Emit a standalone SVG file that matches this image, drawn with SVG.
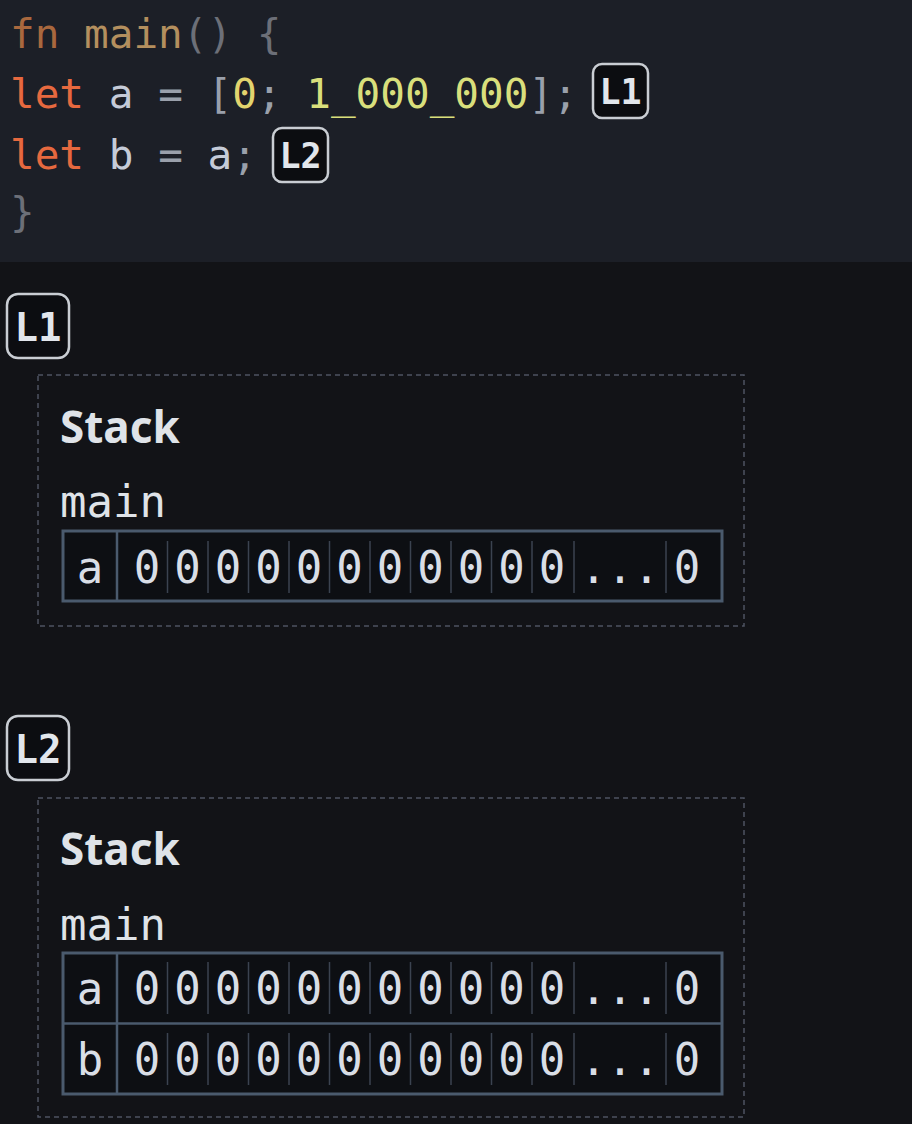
<svg xmlns="http://www.w3.org/2000/svg" width="912" height="1124" viewBox="0 0 912 1124">
<style>
.code{font-family:"DejaVu Sans Mono","Liberation Mono",monospace;font-size:41px}
.badge rect{fill:#0c0d11;stroke:#c9cdd3;stroke-width:2.5}
.badge text{font-family:"DejaVu Sans Mono","Liberation Mono",monospace;font-weight:bold;fill:#e2e6ec;text-anchor:middle}
.frame{fill:none;stroke:#4d5362;stroke-width:1.5;stroke-dasharray:5 4}
.title{font-family:"Noto Sans","Liberation Sans",sans-serif;font-weight:bold;font-size:44px;fill:#dfe3e8}
.fn{font-family:"DejaVu Sans Mono","Liberation Mono",monospace;font-size:44px;fill:#dfe3e8}
.cell{font-family:"DejaVu Sans Mono","Liberation Mono",monospace;font-size:44px;fill:#d9dee6;text-anchor:middle}
.tbl{fill:#0d0f13;stroke:#4a5a6d;stroke-width:3}
.sep{stroke:#4a5a6d;stroke-width:2.5}
.div{stroke:#3b4350;stroke-width:1.5}
</style>
<defs>
<g id="row">
<line class="div" x1="167.5" y1="10" x2="167.5" y2="62"/>
<line class="div" x1="208" y1="10" x2="208" y2="62"/>
<line class="div" x1="248.5" y1="10" x2="248.5" y2="62"/>
<line class="div" x1="289" y1="10" x2="289" y2="62"/>
<line class="div" x1="329.5" y1="10" x2="329.5" y2="62"/>
<line class="div" x1="370" y1="10" x2="370" y2="62"/>
<line class="div" x1="410.5" y1="10" x2="410.5" y2="62"/>
<line class="div" x1="451" y1="10" x2="451" y2="62"/>
<line class="div" x1="491.5" y1="10" x2="491.5" y2="62"/>
<line class="div" x1="532" y1="10" x2="532" y2="62"/>
<line class="div" x1="574" y1="10" x2="574" y2="62"/>
<line class="div" x1="666" y1="10" x2="666" y2="62"/>
<text class="cell" x="147" y="52">0</text>
<text class="cell" x="187.5" y="52">0</text>
<text class="cell" x="228" y="52">0</text>
<text class="cell" x="268.5" y="52">0</text>
<text class="cell" x="309" y="52">0</text>
<text class="cell" x="349.5" y="52">0</text>
<text class="cell" x="390" y="52">0</text>
<text class="cell" x="430.5" y="52">0</text>
<text class="cell" x="471" y="52">0</text>
<text class="cell" x="511.5" y="52">0</text>
<text class="cell" x="552" y="52">0</text>
<text class="cell" x="620" y="52">...</text>
<text class="cell" x="687" y="52">0</text>
</g>
</defs>
<rect x="0" y="0" width="912" height="1124" fill="#121317"/>
<g id="code">
<rect x="0" y="0" width="912" height="262" fill="#1c1f27"/>
<text class="code" x="10" y="48" xml:space="preserve"><tspan fill="#a9683e">fn</tspan><tspan fill="#b48f5e"> main</tspan><tspan fill="#6c6f78">() {</tspan></text>
<text class="code" x="10" y="108" xml:space="preserve"><tspan fill="#e6693f">let</tspan><tspan fill="#c5cbd8"> a </tspan><tspan fill="#9aa0ab">= [</tspan><tspan fill="#e2d46e">0</tspan><tspan fill="#9aa0ab">; </tspan><tspan fill="#d9df7c">1_000_000</tspan><tspan fill="#9aa0ab">];</tspan></text>
<text class="code" x="10" y="169" xml:space="preserve"><tspan fill="#e6693f">let</tspan><tspan fill="#c5cbd8"> b </tspan><tspan fill="#9aa0ab">= </tspan><tspan fill="#c5cbd8">a</tspan><tspan fill="#9aa0ab">;</tspan></text>
<text class="code" x="10" y="226" fill="#6c6f78">}</text>
</g>
<g id="badge-code-L1" class="badge"><rect x="593" y="64" width="55" height="54" rx="9"/><text x="620.5" y="104" font-size="35">L1</text></g>
<g id="badge-code-L2" class="badge"><rect x="273" y="128" width="55" height="54" rx="9"/><text x="300.5" y="168" font-size="35">L2</text></g>
<g id="badge-L1" class="badge"><rect x="7" y="294" width="62" height="64" rx="11"/><text x="38" y="341" font-size="39">L1</text></g>
<g id="stack-L1">
<rect class="frame" x="38" y="375" width="706" height="251"/>
<text class="title" x="60" y="443">Stack</text>
<text class="fn" x="60" y="517">main</text>
<rect class="tbl" x="63" y="531" width="659" height="70"/>
<line class="sep" x1="117" y1="531" x2="117" y2="601"/>
<text class="cell" x="90" y="583">a</text>
<use href="#row" y="531"/>
</g>
<g id="badge-L2" class="badge"><rect x="7" y="716" width="62" height="64" rx="11"/><text x="38" y="763" font-size="39">L2</text></g>
<g id="stack-L2">
<rect class="frame" x="38" y="798" width="706" height="319"/>
<text class="title" x="60" y="865">Stack</text>
<text class="fn" x="60" y="940">main</text>
<rect class="tbl" x="63" y="953" width="659" height="141"/>
<line class="sep" x1="63" y1="1023.5" x2="722" y2="1023.5"/>
<line class="sep" x1="117" y1="953" x2="117" y2="1094"/>
<text class="cell" x="90" y="1004">a</text>
<text class="cell" x="90" y="1075">b</text>
<use href="#row" y="952"/>
<use href="#row" y="1023"/>
</g>
<g id="connectors"/>
</svg>
